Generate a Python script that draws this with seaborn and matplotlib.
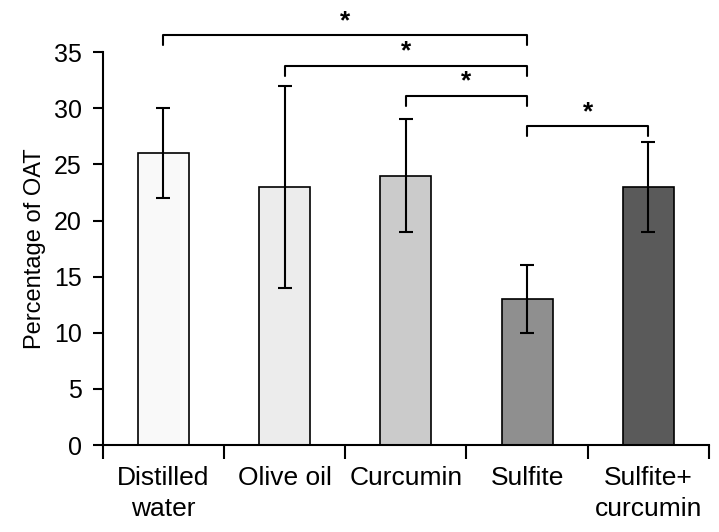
import matplotlib
matplotlib.use("Agg")
import matplotlib.pyplot as plt
import seaborn as sns
import pandas as pd
import numpy as np

# Data
groups = ["Distilled\nwater", "Olive oil", "Curcumin", "Sulfite", "Sulfite+\ncurcumin"]
means = [26, 23, 24, 13, 23]
sd = [4, 9, 5, 3, 4]
colors = ["#f9f9f9", "#ececec", "#cbcbcb", "#8f8f8f", "#5a5a5a"]

# significance brackets: (group a, group b, height)
brackets = [(0, 3, 36.5), (1, 3, 33.8), (2, 3, 31.1), (3, 4, 28.4)]

sns.set_style("ticks", {"text.color": "black", "axes.labelcolor": "black",
                        "xtick.color": "black", "ytick.color": "black",
                        "axes.edgecolor": "black"})
plt.rcParams["font.family"] = ["Liberation Sans", "DejaVu Sans"]

df = pd.DataFrame({"group": groups, "value": means})

fig = plt.figure(figsize=(7.19, 5.32), dpi=100)
ax = fig.add_axes([0.143, 0.1635, 0.843, 0.7385])

sns.barplot(data=df, x="group", y="value", hue="group", palette=colors,
            legend=False, width=0.42, edgecolor="black", linewidth=1.2,
            errorbar=None, ax=ax)
ax.errorbar(np.arange(len(groups)), means, yerr=sd, fmt="none",
            ecolor="black", elinewidth=1.5, capsize=5, capthick=1.5)

ax.set_xlim(-0.5, 4.5)
ax.set_ylim(0, 35)
ax.set_yticks(range(0, 36, 5))
ax.tick_params(axis="y", labelsize=18, length=7, width=1.5, pad=8)
ax.set_xticks(np.arange(-0.5, 5, 1.0))
ax.set_xticklabels([])
ax.tick_params(axis="x", length=10, width=1.5)
ax.set_xticks(np.arange(len(groups)), minor=True)
ax.set_xticklabels(groups, minor=True, fontsize=19, linespacing=1.4)
ax.tick_params(axis="x", which="minor", length=0, pad=15)
ax.set_xlabel("")
ax.set_ylabel("Percentage of OAT", fontsize=17, labelpad=6)

sns.despine(ax=ax)
ax.spines["left"].set_linewidth(1.5)
ax.spines["bottom"].set_linewidth(1.5)

for a, b, h in brackets:
    ax.plot([a, a, b, b], [h - 0.9, h, h, h - 0.9], color="black", lw=1.5,
            clip_on=False)
    ax.text((a + b) / 2, h + 0.2, "*", ha="center", va="bottom", fontsize=19,
            fontweight="bold")

fig.savefig("out.png", dpi=100)
